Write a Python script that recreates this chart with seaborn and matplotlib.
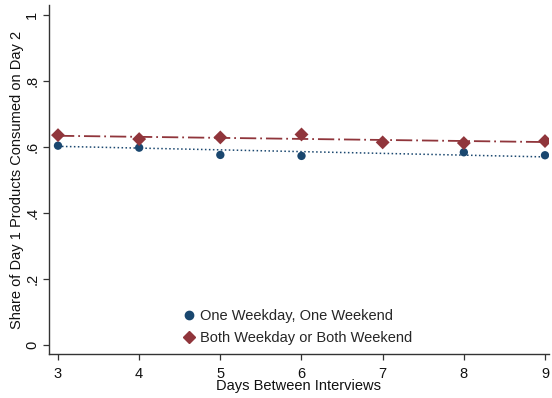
import numpy as np
import pandas as pd
import matplotlib
matplotlib.use("Agg")
import matplotlib.pyplot as plt
import seaborn as sns
from matplotlib.lines import Line2D

# ---- data ----
days = [3, 4, 5, 6, 7, 8, 9]
one_weekday_one_weekend = [0.604, 0.598, 0.576, 0.573, np.nan, 0.584, 0.575]
both_same_type = [0.636, 0.624, 0.629, 0.638, 0.614, 0.612, 0.618]
fit_days = [3, 9]
fit_one = [0.602, 0.570]
fit_both = [0.634, 0.615]
labels = ["One Weekday, One Weekend", "Both Weekday or Both Weekend"]
yticks = [0, 0.2, 0.4, 0.6, 0.8, 1.0]
ytick_labels = ["0", ".2", ".4", ".6", ".8", "1"]
xticks = [3, 4, 5, 6, 7, 8, 9]

navy = "#1a476f"
maroon = "#90353b"

sns.set_theme(style="white")
plt.rcParams["font.family"] = ["Liberation Sans", "DejaVu Sans"]
FS = 10.5

fig = plt.figure(figsize=(5.52, 3.98), dpi=100)
ax = fig.add_axes([49/552, 1-354/398, (549-49)/552, (354-5)/398])

df_pts = pd.DataFrame({"days": days + days,
                       "share": one_weekday_one_weekend + both_same_type,
                       "group": [labels[0]]*len(days) + [labels[1]]*len(days)})
df_fit = pd.DataFrame({"days": fit_days + fit_days,
                       "share": fit_one + fit_both,
                       "group": [labels[0]]*2 + [labels[1]]*2})

sns.lineplot(data=df_fit[df_fit.group == labels[0]], x="days", y="share",
             color=navy, lw=1.1, linestyle=(0, (1, 1.6)), ax=ax, legend=False)
sns.lineplot(data=df_fit[df_fit.group == labels[1]], x="days", y="share",
             color=maroon, lw=1.3, linestyle=(0, (9, 2.2, 1, 2.2)), ax=ax, legend=False)

sns.scatterplot(data=df_pts[df_pts.group == labels[0]].dropna(), x="days", y="share",
                color=navy, marker="o", s=36, edgecolor="none", ax=ax, legend=False, zorder=3)
sns.scatterplot(data=df_pts[df_pts.group == labels[1]], x="days", y="share",
                color=maroon, marker="D", s=50, edgecolor="none", ax=ax, legend=False, zorder=4)

ax.set_xlim(3 - 9/81.17, 9 + 4/81.17)
ax.set_ylim(-9/330, 1 + 10/330)
ax.set_xticks(xticks)
ax.set_xticklabels([str(x) for x in xticks], fontsize=FS)
ax.set_yticks(yticks)
ax.set_yticklabels(ytick_labels, fontsize=FS, rotation=90, va="center")
ax.set_xlabel("Days Between Interviews", fontsize=FS, labelpad=-1, color="#111111")
ax.set_ylabel("Share of Day 1 Products Consumed on Day 2", fontsize=FS, labelpad=1, color="#111111")

for s in ["top", "right"]:
    ax.spines[s].set_visible(False)
for s in ["left", "bottom"]:
    ax.spines[s].set_color("#333333")
    ax.spines[s].set_linewidth(1.0)
ax.tick_params(axis="both", which="major", direction="out", length=4, width=0.9,
               color="#333333", bottom=True, left=True, labelcolor="#111111", pad=3)
ax.tick_params(axis="x", pad=5)

handles = [Line2D([], [], marker="o", color=navy, linestyle="none", markersize=6),
           Line2D([], [], marker="D", color=maroon, linestyle="none", markersize=6)]
leg = ax.legend(handles, labels, frameon=False, fontsize=FS, loc="lower left",
                bbox_to_anchor=(176/552, 1-351/398), bbox_transform=fig.transFigure,
                handletextpad=0.25, handlelength=1.0, labelspacing=0.55, borderaxespad=0)

fig.savefig("out.png", dpi=100)
